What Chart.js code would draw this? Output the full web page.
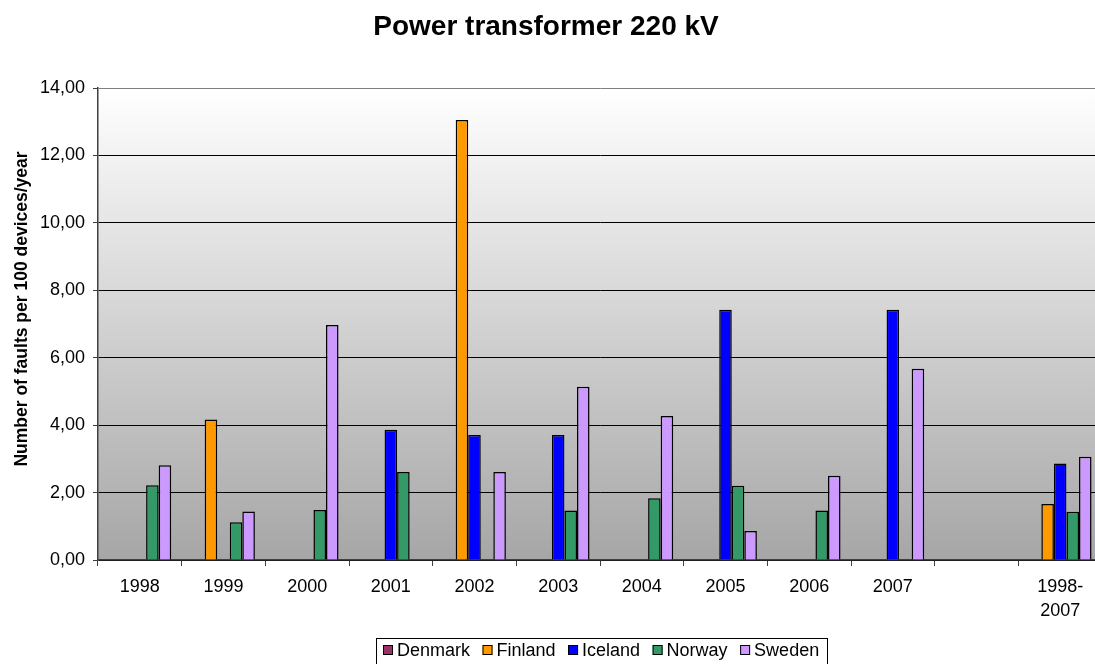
<!DOCTYPE html>
<html><head><meta charset="utf-8">
<script src="https://cdn.jsdelivr.net/npm/chart.js@4.4.0/dist/chart.umd.min.js"></script>
<style>
html,body{margin:0;padding:0;background:#fff;overflow:hidden}
#wrap{width:1095px;height:664px;overflow:hidden;position:relative}
canvas{display:block}
</style></head>
<body><div id="wrap"><canvas id="c" width="1102" height="664" style="width:1102px;height:664px"></canvas></div>
<script>
const chartTitle = 'Power transformer 220 kV';
const yAxisTitle = 'Number of faults per 100 devices/year';
const categories = ['1998','1999','2000','2001','2002','2003','2004','2005','2006','2007','',['1998-','2007']];
const seriesNames = ['Denmark','Finland','Iceland','Norway','Sweden'];
const denmark = [0,0,0,0,0,0,0,0,0,0,null,0];
const finland = [0,4.17,0,0,13.05,0,0,0,0,0,null,1.66];
const iceland = [0,0,0,3.86,3.71,3.71,0,7.42,0,7.42,null,2.86];
const norway  = [2.22,1.12,1.48,2.61,0,1.47,1.83,2.20,1.47,0,null,1.43];
const sweden  = [2.81,1.44,6.97,0,2.61,5.14,4.27,0.86,2.50,5.67,null,3.06];
const yMin = 0, yMax = 14, yStep = 2;
const seriesColors = ['#993366','#FF9900','#0000FF','#339966','#CC99FF'];
const FONT = '"Liberation Sans", Arial, Helvetica, sans-serif';

const seriesValues = [denmark, finland, iceland, norway, sweden];

const decor = {
  id: 'decor',
  beforeDraw(chart) {
    const {ctx, chartArea: a} = chart;
    const g = ctx.createLinearGradient(0, a.top, 0, a.bottom);
    g.addColorStop(0, '#ffffff');
    g.addColorStop(1, '#a6a6a6');
    ctx.save();
    ctx.fillStyle = g;
    ctx.fillRect(a.left, a.top, a.right - a.left, a.bottom - a.top);
    ctx.restore();
  },
  afterDraw(chart) {
    const ctx = chart.ctx;
    ctx.save();
    ctx.fillStyle = '#000';
    ctx.font = 'bold 28px ' + FONT;
    ctx.textAlign = 'center';
    ctx.textBaseline = 'alphabetic';
    ctx.fillText(chartTitle, 546, 35);
    ctx.restore();

    ctx.save();
    ctx.translate(22, 309);
    ctx.rotate(-Math.PI / 2);
    ctx.fillStyle = '#000';
    ctx.font = 'bold 17.5px ' + FONT;
    ctx.textAlign = 'center';
    ctx.textBaseline = 'middle';
    ctx.fillText(yAxisTitle, 0, 0);
    ctx.restore();

    // legend
    ctx.save();
    ctx.font = '18px ' + FONT;
    ctx.textBaseline = 'middle';
    ctx.textAlign = 'left';
    let x = 383;
    const sq = 10, sy = 645;
    ctx.lineWidth = 1;
    ctx.strokeStyle = '#000';
    ctx.strokeRect(376.5, 638.5, 451, 40);
    chart.data.datasets.forEach((ds) => {
      ctx.fillStyle = ds.backgroundColor;
      ctx.fillRect(x, sy, sq, sq);
      ctx.strokeRect(x + 0.5, sy + 0.5, sq - 1, sq - 1);
      ctx.fillStyle = '#000';
      ctx.fillText(ds.label, x + sq + 4, 651);
      x += sq + 4 + ctx.measureText(ds.label).width + 12.5;
    });
    ctx.restore();
  }
};

new Chart(document.getElementById('c'), {
  type: 'bar',
  data: {
    labels: categories,
    datasets: seriesNames.map((n, i) => ({
      label: n,
      data: seriesValues[i],
      backgroundColor: seriesColors[i],
      borderColor: '#000',
      borderWidth: 1.5,
      borderSkipped: 'bottom',
      categoryPercentage: 0.75,
      barPercentage: 1.0
    }))
  },
  options: {
    responsive: false,
    animation: false,
    devicePixelRatio: 1,
    layout: { padding: { top: 88, left: 0, right: 0, bottom: 0 } },
    plugins: { legend: { display: false }, title: { display: false }, tooltip: { enabled: false } },
    scales: {
      x: {
        offset: true,
        afterFit: (s) => { s.height = 104; },
        grid: { display: true, offset: true, drawOnChartArea: false, drawTicks: true, tickLength: 6, color: '#404040', lineWidth: 1 },
        border: { display: true, color: '#404040', width: 1.5 },
        ticks: { color: '#000', font: { family: FONT, size: 18, lineHeight: 1.33 }, padding: 9, maxRotation: 0, autoSkip: false }
      },
      y: {
        min: yMin, max: yMax,
        afterFit: (s) => { s.width = 98; },
        grid: { color: (c) => (c.tick && c.tick.value === yMax ? '#808080' : '#000'), lineWidth: 1, drawTicks: true, tickLength: 5, tickColor: '#404040' },
        border: { display: true, color: '#404040', width: 1.5 },
        ticks: { stepSize: yStep, color: '#000', font: { family: FONT, size: 18 }, padding: 8,
          callback: (v) => Number(v).toFixed(2).replace('.', ',') }
      }
    }
  },
  plugins: [decor]
});
</script>
</body></html>
